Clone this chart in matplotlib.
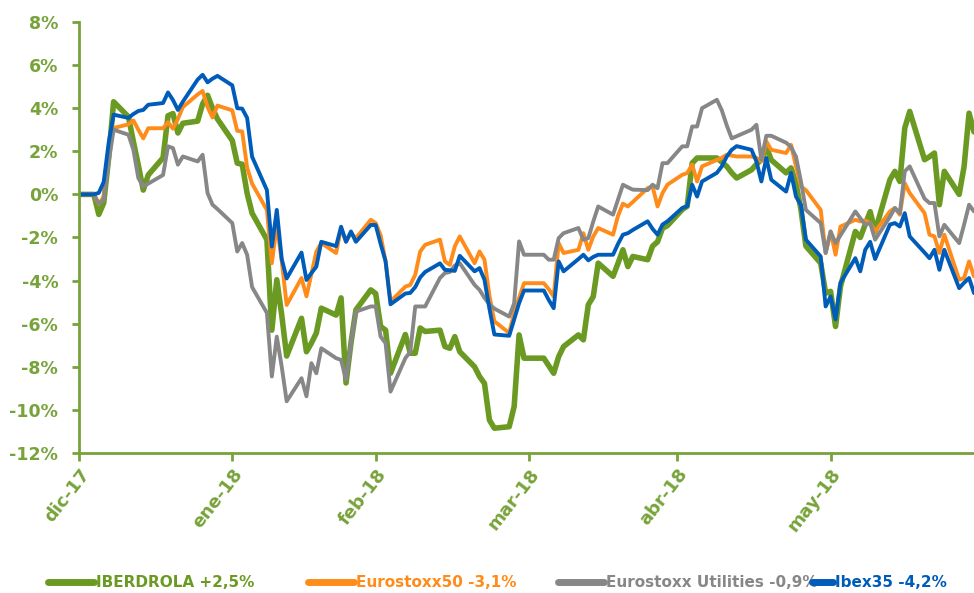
import matplotlib
matplotlib.use("Agg")
import matplotlib.pyplot as plt
from matplotlib.ticker import FuncFormatter
import pandas as pd

# ---------------- data ----------------
start_date = "2017-12-29"
end_date = "2018-06-28"

tick_dates = ["2017-12-29", "2018-01-29", "2018-02-27", "2018-03-30", "2018-04-29", "2018-05-30"]
tick_labels = ["dic-17", "ene-18", "feb-18", "mar-18", "abr-18", "may-18"]

series_names = ["IBERDROLA +2,5%", "Eurostoxx50 -3,1%", "Eurostoxx Utilities -0,9%", "Ibex35 -4,2%"]

iberdrola = [
    0,
    0, -0.93, -0.4, 1.7, 4.3,
    3.6, 2.45, 1.35, 0.2, 0.9,
    1.7, 3.65, 3.75, 2.85, 3.3,
    3.4, 4.2, 4.6, 4.0, 3.5,
    2.5, 1.45, 1.4, 0.05, -0.87,
    -2.1, -6.3, -3.96, -5.6, -7.5,
    -5.75, -7.3, -6.9, -6.43, -5.28,
    -5.6, -4.8, -8.75, -6.9, -5.36,
    -4.43, -4.6, -6.13, -6.3, -8.3,
    -6.5, -7.37, -7.37, -6.2, -6.36,
    -6.3, -7.06, -7.14, -6.6, -7.3,
    -8.0, -8.45, -8.77, -10.47, -10.85,
    -10.78, -9.85, -6.52, -7.6, -7.6,
    -7.6, -7.95, -8.3, -7.53, -7.06,
    -6.52, -6.75, -5.12, -4.74, -3.19,
    -3.8, -3.2, -2.57, -3.35, -2.88,
    -3.03, -2.4, -2.2, -1.57, -1.45,
    -0.7, -0.55, 1.45, 1.69, 1.69,
    1.69, 1.5, 1.3, 1.0, 0.76,
    1.14, 1.4, 1.61, 2.2, 1.6,
    1.0, 1.23, 0.5, -0.7, -2.4,
    -3.19, -4.58, -4.5, -6.13, -4.27,
    -1.72, -2.0, -1.4, -0.8, -1.72,
    0.68, 1.07, 0.6, 3.08, 3.85,
    1.61, 1.75, 1.92, -0.48, 1.07,
    0.0, 1.3, 3.77, 2.9,
]

eurostoxx50 = [
    0,
    0, -0.45, -0.1, 2.1, 3.08,
    3.25, 3.43, 3.0, 2.6, 3.07,
    3.07, 3.35, 3.05, 3.5, 4.05,
    4.64, 4.8, 4.05, 3.57, 4.12,
    3.9, 2.95, 2.92, 1.25, 0.5,
    -0.72, -3.19, -1.41, -3.1, -5.13,
    -3.88, -4.73, -3.7, -2.65, -2.26,
    -2.72, -1.56, -2.18, -1.79, -2.03,
    -1.18, -1.33, -1.9, -3.11, -4.97,
    -4.28, -4.2, -3.73, -2.65, -2.34,
    -2.1, -3.11, -3.27, -2.41, -1.95,
    -3.19, -2.65, -3.03, -4.7, -5.89,
    -6.43, -5.5, -4.8, -4.12, -4.12,
    -4.12, -4.4, -4.74, -2.26, -2.72,
    -2.57, -1.8, -2.57, -1.95, -1.56,
    -1.87, -1.0, -0.43, -0.56, -0.35,
    0.29, 0.37, -0.56, 0.06, 0.45,
    0.91, 0.99, 1.38, 0.6, 1.3,
    1.6, 1.7, 1.84, 1.8, 1.76,
    1.76, 1.7, 1.53, 2.46, 2.07,
    1.92, 2.3, 1.3, 0.37, 0.2,
    -0.72, -2.72, -1.72, -2.8, -1.49,
    -1.18, -1.25, -1.21, -1.33, -1.72,
    -0.79, -0.63, -0.94, 0.52, 0.06,
    -0.87, -1.87, -1.95, -2.72, -1.87,
    -3.96, -3.88, -3.11, -3.8,
]

utilities = [
    0,
    0, -0.43, -0.25, 1.5, 3.0,
    2.77, 2.07, 0.76, 0.37, 0.5,
    0.9, 2.23, 2.15, 1.38, 1.76,
    1.53, 1.84, 0.06, -0.48, -0.68,
    -1.33, -2.65, -2.26, -2.8, -4.3,
    -5.5, -8.45, -6.6, -8.0, -9.6,
    -8.53, -9.37, -7.83, -8.3, -7.14,
    -7.6, -7.68, -8.6, -6.9, -5.44,
    -5.2, -5.2, -6.6, -6.9, -9.15,
    -7.6, -7.3, -5.2, -5.2, -5.2,
    -3.88, -3.65, -3.6, -3.3, -3.19,
    -4.2, -4.43, -4.8, -5.1, -5.3,
    -5.67, -5.05, -2.18, -2.8, -2.8,
    -2.8, -3.03, -3.03, -2.03, -1.8,
    -1.56, -2.1, -2.03, -1.26, -0.56,
    -0.94, -0.25, 0.45, 0.33, 0.22,
    0.2, 0.45, 0.29, 1.45, 1.45,
    2.23, 2.23, 3.15, 3.15, 4.0,
    4.39, 3.9, 3.2, 2.6, 2.7,
    3.0, 3.23, 1.61, 2.72, 2.72,
    2.4, 2.2, 1.75, 0.6, -0.72,
    -1.33, -2.72, -1.72, -2.26, -1.9,
    -0.79, -1.1, -1.41, -1.33, -2.1,
    -1.04, -0.63, -0.87, 1.07, 1.3,
    -0.2, -0.4, -0.4, -1.95, -1.41,
    -2.26, -1.4, -0.48, -0.79,
]

ibex35 = [
    0,
    0, 0.07, 0.58, 2.4, 3.7,
    3.55, 3.73, 3.87, 3.92, 4.16,
    4.24, 4.73, 4.38, 3.92, 4.3,
    5.33, 5.55, 5.2, 5.37, 5.5,
    5.06, 4.0, 3.98, 3.55, 1.75,
    0.2, -2.42, -0.72, -3.0, -3.9,
    -2.7, -3.97, -3.65, -3.35, -2.2,
    -2.4, -1.5, -2.2, -1.72, -2.2,
    -1.42, -1.42, -2.3, -3.1, -5.1,
    -4.6, -4.57, -4.3, -3.85, -3.6,
    -3.2, -3.5, -3.52, -3.55, -2.85,
    -3.57, -3.42, -3.96, -5.3, -6.5,
    -6.56, -5.8, -5.05, -4.46, -4.46,
    -4.46, -4.9, -5.28, -3.11, -3.57,
    -3.0, -2.8, -3.06, -2.9, -2.8,
    -2.8, -2.3, -1.87, -1.8, -1.65,
    -1.25, -1.6, -1.87, -1.4, -1.25,
    -0.63, -0.55, 0.45, -0.1, 0.6,
    1.0, 1.3, 1.76, 2.07, 2.24,
    2.07, 1.53, 0.6, 1.69, 0.68,
    0.13, 1.0, -0.1, -0.49, -2.1,
    -2.88, -5.2, -4.74, -5.8, -4.1,
    -2.96, -3.57, -2.57, -2.2, -3.0,
    -1.4, -1.33, -1.49, -0.87, -1.95,
    -2.7, -2.96, -2.57, -3.5, -2.57,
    -4.35, -4.1, -3.88, -4.58,
]

y_ticks = [-12, -10, -8, -6, -4, -2, 0, 2, 4, 6, 8]

# ---------------- style ----------------
GREEN = "#6B9A22"
AXIS_GREEN = "#77A33A"
ORANGE = "#FF8C1A"
GRAY = "#878787"
BLUE = "#005CB9"

plt.rcParams["font.family"] = ["DejaVu Sans"]

dates = pd.bdate_range(start_date, end_date)

fig = plt.figure(figsize=(9.74, 5.93), dpi=100)
ax = fig.add_axes([79 / 974, 1 - 453 / 593, (974 - 79) / 974, (453 - 22) / 593])

series = [iberdrola, eurostoxx50, utilities, ibex35]
colors = [GREEN, ORANGE, GRAY, BLUE]
widths = [4.0, 2.8, 2.8, 2.8]
handles = []
for vals, col, lw, name in zip(series, colors, widths, series_names):
    h, = ax.plot(dates, vals, color=col, lw=lw, solid_joinstyle="round",
                 solid_capstyle="round", label=name)
    handles.append(h)

ax.set_xlim(pd.Timestamp(start_date), pd.Timestamp(end_date))
ax.set_ylim(-12, 8)
ax.set_yticks(y_ticks)
ax.yaxis.set_major_formatter(FuncFormatter(lambda v, p: f"{v:.0f}%"))
ax.set_xticks(pd.to_datetime(tick_dates))
ax.set_xticklabels(tick_labels)

for s in ["top", "right"]:
    ax.spines[s].set_visible(False)
for s in ["left", "bottom"]:
    ax.spines[s].set_color(AXIS_GREEN)
    ax.spines[s].set_linewidth(2)

ax.tick_params(axis="y", direction="out", length=5, width=2, color=AXIS_GREEN,
               labelcolor=AXIS_GREEN, labelsize=12.5, pad=10)
ax.tick_params(axis="x", direction="out", length=6, width=2, color=AXIS_GREEN,
               labelcolor=AXIS_GREEN, labelsize=13, pad=3)
for lab in ax.get_yticklabels():
    lab.set_fontweight("bold")
for lab in ax.get_xticklabels():
    lab.set_fontweight("bold")
    lab.set_rotation(52)
    lab.set_ha("right")
    lab.set_va("top")
    lab.set_rotation_mode("anchor")

# legend entries placed along the bottom row
legend_x = [48, 308, 558, 812]
handle_len = [3.0, 3.0, 3.0, 1.35]
for h, col, lx, hl in zip(handles, colors, legend_x, handle_len):
    lg = fig.legend(handles=[h], loc="center left", bbox_to_anchor=(lx / 974, 0.017),
                    frameon=False, borderpad=0, borderaxespad=0, handlelength=hl,
                    handletextpad=0.15, prop={"weight": "bold", "size": 11})
    lg.get_texts()[0].set_color(col)
    lg.get_lines()[0].set_linewidth(5)

fig.savefig("out.png", dpi=100)
